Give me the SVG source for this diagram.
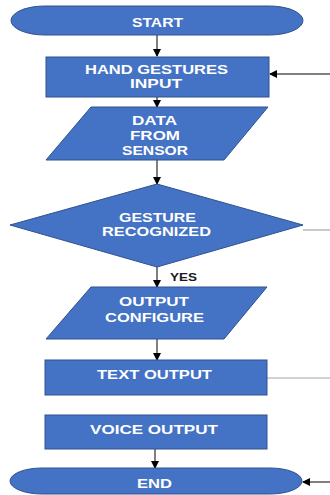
<svg xmlns="http://www.w3.org/2000/svg" width="330" height="495" viewBox="0 0 330 495">
<style>
.shape{fill:#4472C4;stroke:#2F528F;stroke-width:1}
.lbl{font-family:"Liberation Sans",Arial,sans-serif;font-size:12px;font-weight:bold;fill:#FFFFFF;text-anchor:middle}
.conn{stroke:#000000;stroke-width:1;fill:none}
.gray{stroke:#A6A6A6;stroke-width:1.2;fill:none}
.yes{font-family:"Liberation Sans",Arial,sans-serif;font-size:11.5px;font-weight:bold;fill:#1a1a1a}
</style>
<defs>
<marker id="ah" markerWidth="8" markerHeight="8" refX="7" refY="4" orient="auto" markerUnits="userSpaceOnUse">
<path d="M0,0 L8,4 L0,8 Z" fill="#000000"/>
</marker>
</defs>
<rect width="330" height="495" fill="#FFFFFF"/>
<g id="connectors">
<line class="conn" x1="157" y1="35" x2="157" y2="56" marker-end="url(#ah)"/>
<line class="conn" x1="330" y1="74" x2="270" y2="74" marker-end="url(#ah)"/>
<line class="conn" x1="157" y1="97" x2="157" y2="107" marker-end="url(#ah)"/>
<line class="conn" x1="157" y1="160" x2="157" y2="184" marker-end="url(#ah)"/>
<line class="gray" x1="303" y1="230" x2="330" y2="230"/>
<line class="conn" x1="157" y1="267" x2="157" y2="287" marker-end="url(#ah)"/>
<line class="conn" x1="157" y1="339" x2="157" y2="360" marker-end="url(#ah)"/>
<line class="gray" x1="267" y1="378" x2="330" y2="378"/>
<line class="conn" x1="155" y1="449" x2="155" y2="468" marker-end="url(#ah)"/>
<line class="conn" x1="330" y1="482" x2="303" y2="482" marker-end="url(#ah)"/>
<text class="yes" x="170" y="281" textLength="27" lengthAdjust="spacingAndGlyphs">YES</text>
</g>
<g id="start">
<path class="shape" d="M45,6 L269,6 A34,14.5 0 0 1 269,35 L45,35 A34,14.5 0 0 1 45,6 Z"/>
<text class="lbl" x="157.5" y="27" textLength="51" lengthAdjust="spacingAndGlyphs">START</text>
</g>
<g id="hand">
<rect class="shape" x="46" y="57" width="223" height="40"/>
<text class="lbl" x="156.5" y="74" textLength="143" lengthAdjust="spacingAndGlyphs">HAND GESTURES</text>
<text class="lbl" x="156" y="88" textLength="52" lengthAdjust="spacingAndGlyphs">INPUT</text>
</g>
<g id="data">
<polygon class="shape" points="91,107 268,107 224,160 46,160"/>
<text class="lbl" x="154.5" y="125" textLength="45" lengthAdjust="spacingAndGlyphs">DATA</text>
<text class="lbl" x="155" y="139.5" textLength="50" lengthAdjust="spacingAndGlyphs">FROM</text>
<text class="lbl" x="155" y="154.5" textLength="66" lengthAdjust="spacingAndGlyphs">SENSOR</text>
</g>
<g id="gesture">
<polygon class="shape" points="157,184 303,225 157,267 10,225"/>
<text class="lbl" x="157.5" y="221.5" textLength="77" lengthAdjust="spacingAndGlyphs">GESTURE</text>
<text class="lbl" x="156.5" y="236" textLength="109" lengthAdjust="spacingAndGlyphs">RECOGNIZED</text>
</g>
<g id="output">
<polygon class="shape" points="91,287 267,287 224,339 46,339"/>
<text class="lbl" x="154" y="306" textLength="70" lengthAdjust="spacingAndGlyphs">OUTPUT</text>
<text class="lbl" x="154.5" y="322" textLength="99" lengthAdjust="spacingAndGlyphs">CONFIGURE</text>
</g>
<g id="text">
<rect class="shape" x="45" y="360" width="222" height="35"/>
<text class="lbl" x="154.5" y="379" textLength="115" lengthAdjust="spacingAndGlyphs">TEXT OUTPUT</text>
</g>
<g id="voice">
<rect class="shape" x="45" y="415" width="222" height="34"/>
<text class="lbl" x="154" y="434" textLength="128" lengthAdjust="spacingAndGlyphs">VOICE OUTPUT</text>
</g>
<g id="end">
<path class="shape" d="M42,468 L270,468 A32,13 0 0 1 270,494 L42,494 A32,13 0 0 1 42,468 Z"/>
<text class="lbl" x="154.5" y="488" textLength="35" lengthAdjust="spacingAndGlyphs">END</text>
</g>
</svg>
